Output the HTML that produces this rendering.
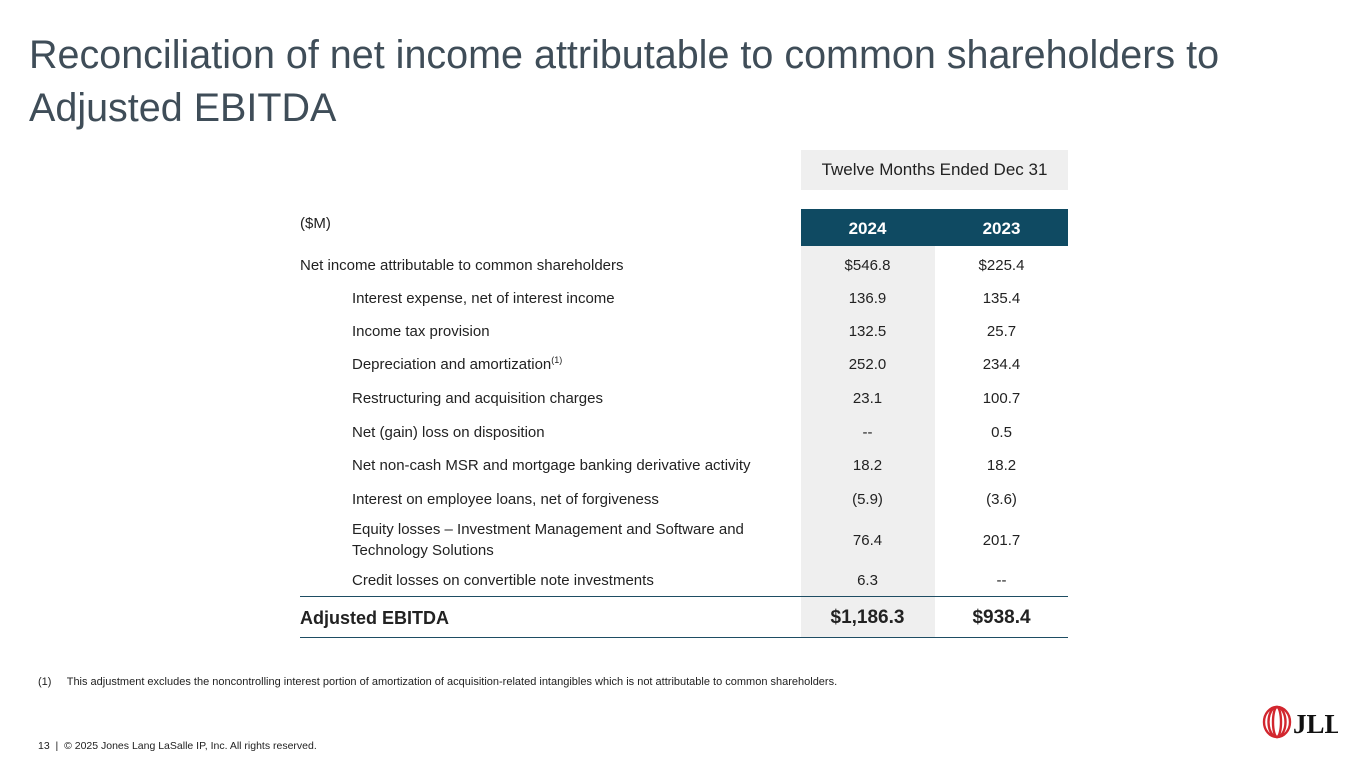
<!DOCTYPE html>
<html><head><meta charset="utf-8"><style>
body{margin:0;width:1365px;height:768px;background:#fff;position:relative;overflow:hidden;font-family:"Liberation Sans",sans-serif;color:#222;}
.a{position:absolute;white-space:nowrap;}
.t{font-size:15px;}
.c{width:133px;text-align:center;font-size:15px;}
</style></head><body>
<div class="a" style="left:29px;top:29px;font-size:39.5px;line-height:53px;color:#3f4d58;">Reconciliation of net income attributable to common shareholders to<br>Adjusted EBITDA</div>
<div class="a" style="left:801px;top:150px;width:267px;height:40px;background:#efefef;text-align:center;line-height:40px;font-size:17px;">Twelve Months Ended Dec 31</div>
<div class="a" style="left:300px;top:215px;font-size:15px;">($M)</div>
<div class="a" style="left:801px;top:209px;width:267px;height:37px;background:#0f4a62;"></div>
<div class="a c" style="left:801px;top:219px;color:#fff;font-weight:bold;font-size:17px;">2024</div>
<div class="a c" style="left:935px;top:219px;color:#fff;font-weight:bold;font-size:17px;">2023</div>
<div class="a" style="left:801px;top:246px;width:134px;height:392px;background:#efefef;"></div>
<div id="rows"></div>
<div class="a" style="left:300px;top:596px;width:768px;height:1px;background:#1e4d63;"></div>
<div class="a" style="left:300px;top:637px;width:768px;height:1px;background:#1e4d63;"></div>
<div class="a" style="left:300px;top:608px;font-size:18px;font-weight:bold;">Adjusted EBITDA</div>
<div class="a c" style="left:801px;top:607px;font-size:19px;font-weight:bold;">$1,186.3</div>
<div class="a c" style="left:935px;top:607px;font-size:19px;font-weight:bold;">$938.4</div>
<div class="a" style="left:38px;top:676px;font-size:11px;">(1)&nbsp;&nbsp;&nbsp;&nbsp;&nbsp;This adjustment excludes the noncontrolling interest portion of amortization of acquisition-related intangibles which is not attributable to common shareholders.</div>
<div class="a" style="left:38px;top:740px;font-size:10.5px;">13&nbsp; |&nbsp; © 2025 Jones Lang LaSalle IP, Inc. All rights reserved.</div>
<div class="a" style="left:1262px;top:705px;">
<svg width="76" height="34" viewBox="0 0 76 34"><g fill="none" stroke="#d2262e" stroke-width="2.4"><ellipse cx="15" cy="17" rx="13" ry="15"/><ellipse cx="15" cy="17" rx="8.5" ry="15"/><ellipse cx="15" cy="17" rx="4" ry="15"/></g><text x="31" y="28" font-family="Liberation Serif,serif" font-weight="bold" font-size="27" fill="#111">JLL</text></svg></div>
<script>
const labels=["Net income attributable to common shareholders","Interest expense, net of interest income","Income tax provision","Depreciation and amortization","Restructuring and acquisition charges","Net (gain) loss on disposition","Net non-cash MSR and mortgage banking derivative activity","Interest on employee loans, net of forgiveness","Equity losses – Investment Management and Software and<br>Technology Solutions","Credit losses on convertible note investments"];
const v2024=["$546.8","136.9","132.5","252.0","23.1","--","18.2","(5.9)","76.4","6.3"];
const v2023=["$225.4","135.4","25.7","234.4","100.7","0.5","18.2","(3.6)","201.7","--"];
const centers=[265,298,331,364,398,432,465,499,540,580];
const root=document.getElementById('rows');
labels.forEach((l,i)=>{
  const y=centers[i];
  const d=document.createElement('div');
  d.className='a t';
  
  
  d.style.left=(i===0?300:352)+'px';
  const multi=l.includes('<br>');
  d.style.top=(multi?y-21:y-10)+'px';
  d.style.lineHeight='21px';
  d.innerHTML=l+(i===3?'<sup style="font-size:9px;line-height:0;vertical-align:6px">(1)</sup>':'');
  root.appendChild(d);
  [[v2024,801,'value-2024'],[v2023,935,'value-2023']].forEach(([arr,x,n])=>{
    const c=document.createElement('div');
    c.className='a c';
    
    
    c.style.left=x+'px';c.style.top=(y-9)+'px';c.style.lineHeight='20px';
    c.textContent=arr[i];root.appendChild(c);
  });
});
</script>
</body></html>
